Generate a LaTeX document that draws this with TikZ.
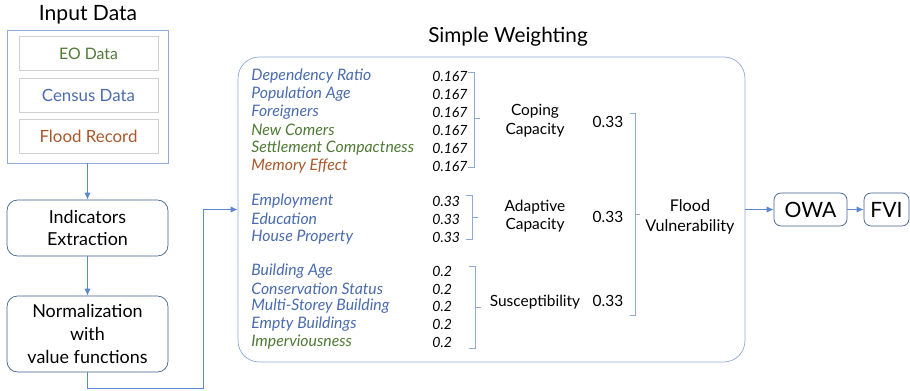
\documentclass[tikz,border=0pt]{standalone}
\usepackage{fontspec}
\setmainfont{Lato}
\usetikzlibrary{positioning,arrows.meta,calc}

\definecolor{eogreen}{HTML}{4E7A35}
\definecolor{censusblue}{HTML}{4A6BAE}
\definecolor{floodbrown}{HTML}{A9582A}
\definecolor{linkblue}{HTML}{5B86D0}
\definecolor{frameblue}{HTML}{8FA9D6}
\definecolor{stepline}{HTML}{3F5F8F}

\begin{document}
\begin{tikzpicture}[
    x=0.02cm,y=-0.02cm,
    font=\fontsize{9}{11}\selectfont,
    srcbox/.style={draw=black!18,minimum width=2.78cm,minimum height=0.68cm,inner sep=0pt},
    procbox/.style={draw=stepline,rounded corners=6pt,align=center,
                    minimum width=3.22cm,inner sep=0pt,font=\fontsize{10.2}{13}\selectfont},
    item/.style={anchor=west,inner sep=0pt,font=\fontsize{9}{10}\selectfont\itshape},
    weight/.style={anchor=west,inner sep=0pt,font=\fontsize{8}{10}\selectfont\itshape},
    grouplabel/.style={align=center,inner sep=0pt,font=\fontsize{8.8}{10.6}\selectfont},
    brace/.style={frameblue,line width=0.5pt},
    link/.style={-{Latex[length=4pt,width=3.5pt]},linkblue,line width=0.5pt}
]
  \useasboundingbox (0,0) rectangle (910,391);

  % input data
  \node[font=\fontsize{12}{14}\selectfont] (intitle) at (88,15) {Input Data};
  \node[draw=frameblue,minimum width=3.22cm,minimum height=2.66cm] (input) at (87.5,96.5) {};
  \node[srcbox,text=eogreen] (eo) at (88.5,53.5) {EO Data};
  \node[srcbox,text=censusblue,font=\fontsize{9.6}{11}\selectfont] (census) at (88.5,95) {Census Data};
  \node[srcbox,text=floodbrown,font=\fontsize{9.6}{11}\selectfont] (flood) at (88.5,136) {Flood Record};

  % preprocessing
  \node[procbox,minimum height=1.12cm] (indicators) at (87.5,228) {Indicators\\Extraction};
  \node[procbox,minimum height=1.52cm] (normal) at (87.5,334) {Normalization\\with\\value functions};

  % weighting frame
  \node[font=\fontsize{11.8}{13}\selectfont] (wtitle) at (508,37) {Simple Weighting};
  \node[draw=frameblue,rounded corners=12pt,minimum width=10.14cm,minimum height=6.1cm] (weighting) at (491.5,209.5) {};

  % indicators and their weights
  \foreach \txt/\col/\w/\y in {
      Dependency Ratio/censusblue/0.167/76,
      Population Age/censusblue/0.167/94,
      Foreigners/censusblue/0.167/112,
      New Comers/eogreen/0.167/130,
      Settlement Compactness/eogreen/0.167/148,
      Memory Effect/floodbrown/0.167/166,
      Employment/censusblue/0.33/201,
      Education/censusblue/0.33/219,
      House Property/censusblue/0.33/237,
      Building Age/censusblue/0.2/271,
      Conservation Status/censusblue/0.2/289,
      Multi-Storey Building/censusblue/0.2/306,
      Empty Buildings/censusblue/0.2/324,
      Imperviousness/eogreen/0.2/342}{
    \node[item,text=\col] at (251,\y) {\txt};
    \node[weight] at (432,\y) {\w};
  }

  % brackets per dimension
  \draw[brace] (468,72) -- (474,72) -- (474,167) -- (468,167) (474,118) -- (480,118);
  \draw[brace] (466,195) -- (472,195) -- (472,239) -- (466,239) (472,217) -- (478,217);
  \draw[brace] (469,266) -- (475,266) -- (475,348) -- (469,348) (475,307) -- (481,307);

  \node[grouplabel] (coping) at (535,121) {Coping\\Capacity};
  \node[grouplabel] (adaptive) at (535,216) {Adaptive\\Capacity};
  \node[grouplabel] (suscept) at (535,302) {Susceptibility};
  \node[grouplabel] (wcoping) at (608,122) {0.33};
  \node[grouplabel] (wadaptive) at (608,217) {0.33};
  \node[grouplabel] (wsuscept) at (608,301) {0.33};

  \draw[brace] (630,113) -- (635,113) -- (635,315) -- (630,315) (635,214) -- (640,214);
  \node[grouplabel,font=\fontsize{9.2}{11.4}\selectfont] (vuln) at (690,217) {Flood\\Vulnerability};

  % aggregation
  \node[draw=stepline,rounded corners=4pt,minimum width=1.46cm,minimum height=0.66cm,
        inner sep=0pt,font=\fontsize{12}{14}\selectfont] (owa) at (810.5,209.5) {OWA};
  \node[draw=stepline,rounded corners=4pt,minimum width=0.9cm,minimum height=0.66cm,
        inner sep=0pt,font=\fontsize{12}{14}\selectfont] (fvi) at (886.5,209.5) {FVI};

  \draw[link] (input) -- (indicators);
  \draw[link] (indicators) -- (normal);
  \draw[link] (normal.south) -- ++(0,16) -| ($(weighting.west)+(-34,0)$) -- (weighting.west);
  \draw[link] (weighting.east) -- (owa.west);
  \draw[link] (owa) -- (fvi);
\end{tikzpicture}
\end{document}
